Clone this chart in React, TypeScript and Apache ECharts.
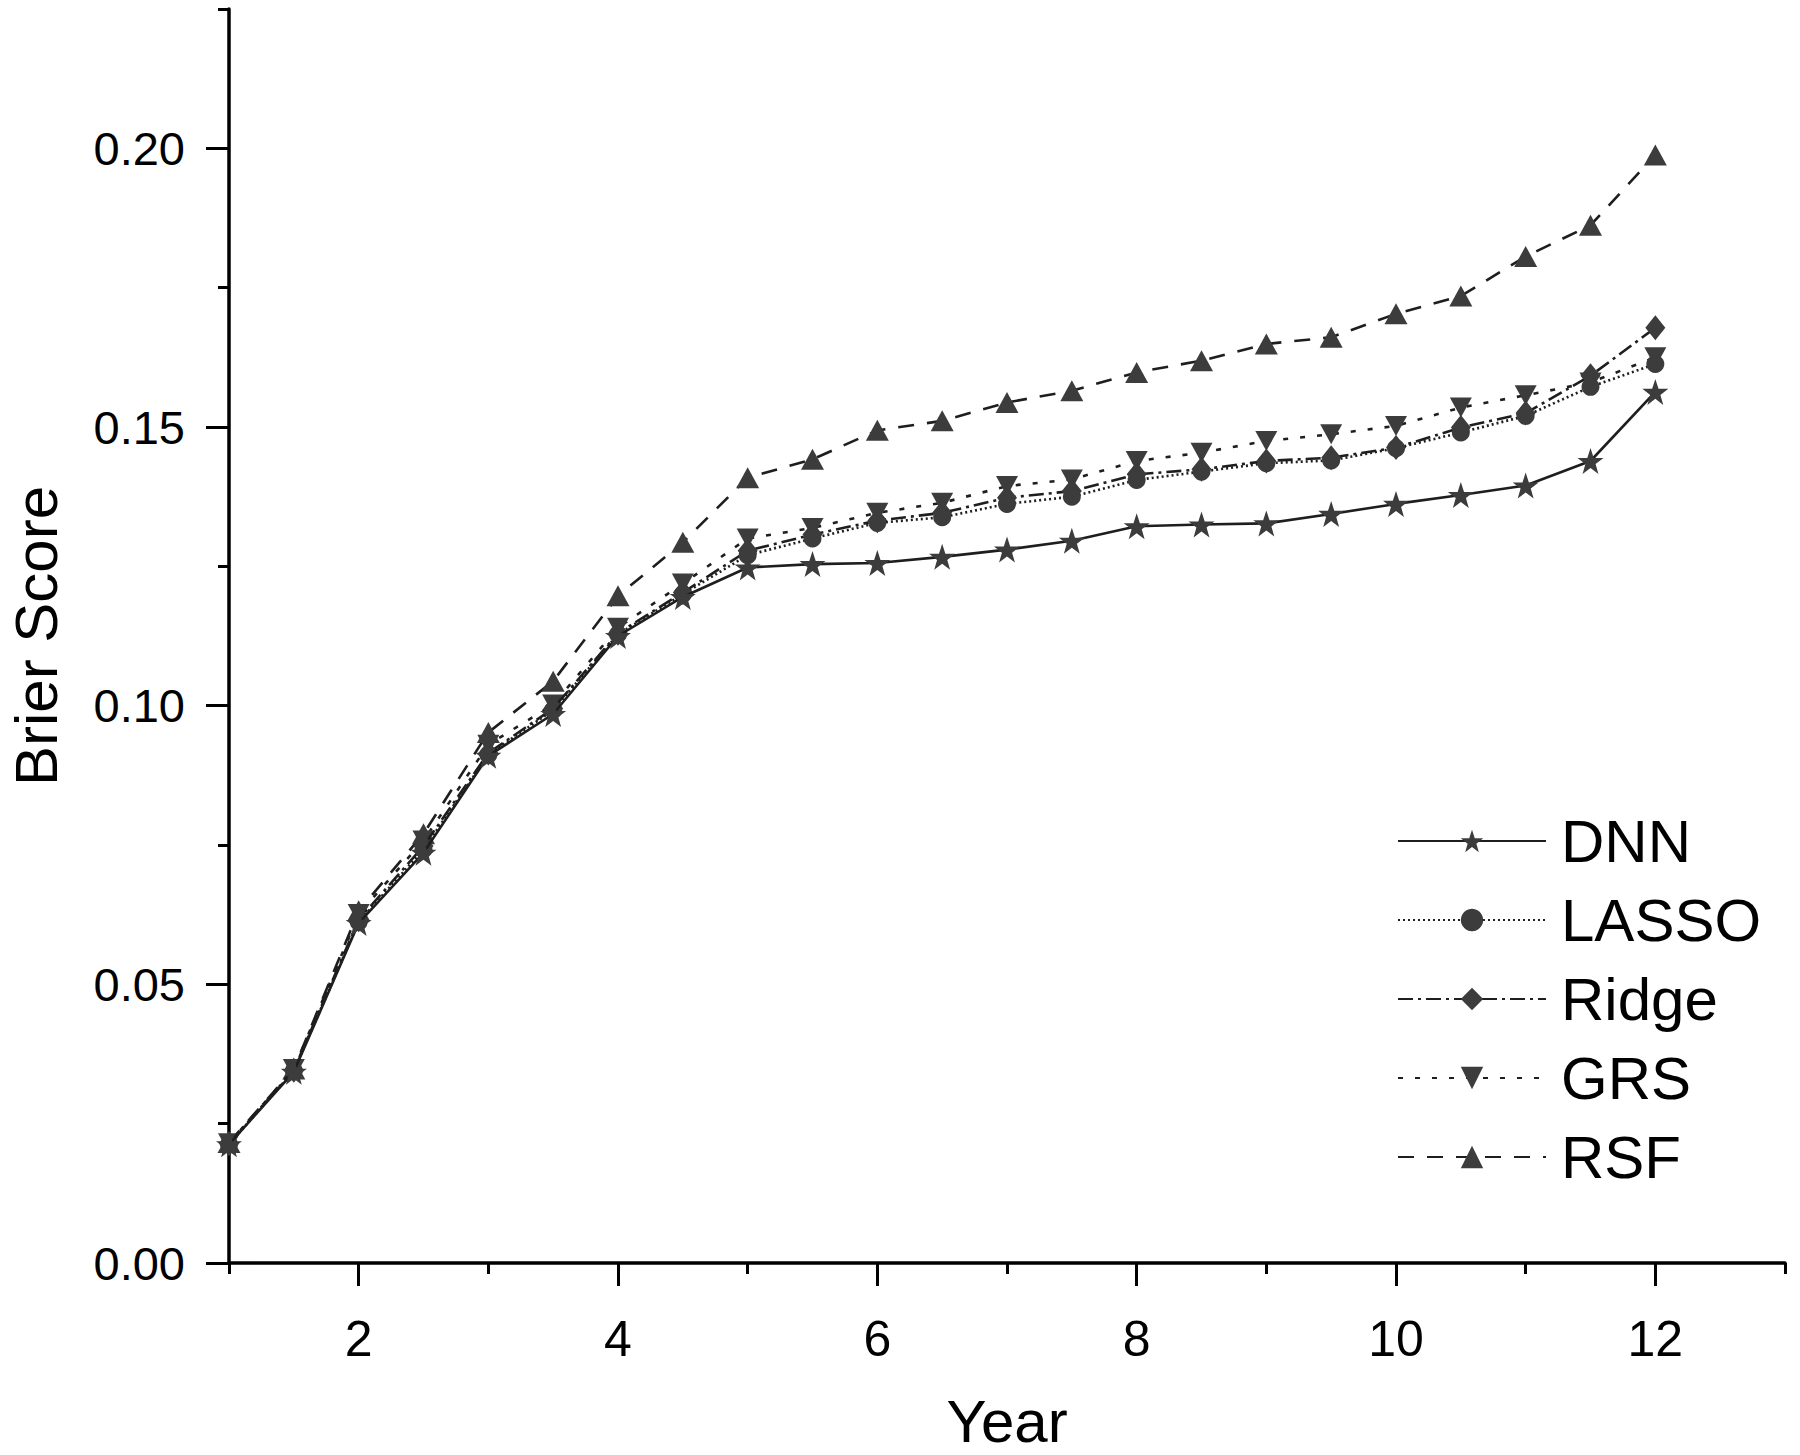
import React, { useEffect, useRef } from "react";
import * as echarts from "echarts";

const years = [1, 1.5, 2, 2.5, 3, 3.5, 4, 4.5, 5, 5.5, 6, 6.5, 7, 7.5, 8, 8.5, 9, 9.5, 10, 10.5, 11, 11.5, 12];

const DNN = [0.0213, 0.0343, 0.061, 0.0736, 0.091, 0.0985, 0.1125, 0.1195, 0.1248, 0.1254, 0.1256, 0.1267, 0.128, 0.1296, 0.1322, 0.1325, 0.1327, 0.1344, 0.1362, 0.1378, 0.1395, 0.1439, 0.1563];
const LASSO = [0.0213, 0.0345, 0.0612, 0.0742, 0.0912, 0.0992, 0.1128, 0.12, 0.127, 0.13, 0.1328, 0.1338, 0.1362, 0.1375, 0.1405, 0.142, 0.1435, 0.144, 0.1462, 0.149, 0.152, 0.1572, 0.1613];
const Ridge = [0.0214, 0.0346, 0.0616, 0.0748, 0.0915, 0.0995, 0.113, 0.1203, 0.1278, 0.1307, 0.1332, 0.1346, 0.1373, 0.1385, 0.1415, 0.1424, 0.1439, 0.1445, 0.1463, 0.1499, 0.1525, 0.1592, 0.1678];
const GRS = [0.0215, 0.0348, 0.0626, 0.0758, 0.093, 0.1002, 0.114, 0.1219, 0.13, 0.1319, 0.1346, 0.1364, 0.1394, 0.1406, 0.1439, 0.1454, 0.1475, 0.1487, 0.1502, 0.1535, 0.1557, 0.158, 0.1625];
const RSF = [0.0216, 0.0348, 0.0632, 0.077, 0.0952, 0.1044, 0.1197, 0.1293, 0.1409, 0.1442, 0.1494, 0.1511, 0.1544, 0.1565, 0.1598, 0.1619, 0.1649, 0.1661, 0.1703, 0.1735, 0.1806, 0.1862, 0.1988];

const seriesNames = ["DNN", "LASSO", "Ridge", "GRS", "RSF"];
const seriesValues = [DNN, LASSO, Ridge, GRS, RSF];

const xMajorTicks = [2, 4, 6, 8, 10, 12];
const xMinorTicks = [1, 3, 5, 7, 9, 11, 13];
const yMajorTicks = [0, 0.05, 0.1, 0.15, 0.2];
const yMinorTicks = [0.025, 0.075, 0.125, 0.175, 0.225];

const STAR = "path://M50,0 L61.8,35.1 L98.1,35.1 L68.8,56.8 L79.4,91.9 L50,70.6 L20.6,91.9 L31.2,56.8 L1.9,35.1 L38.2,35.1 Z";
const DOWN_TRI = "path://M0,0 L100,0 L50,90 Z";

const styles = [
  { symbol: STAR, size: 26, dash: "solid" as any },
  { symbol: "circle", size: 18, dash: [2, 3] },
  { symbol: "diamond", size: [20, 25], dash: [15, 5, 3, 5] },
  { symbol: DOWN_TRI, size: [22, 20], dash: [5, 12] },
  { symbol: "triangle", size: [23, 21], dash: [16, 13] },
];

const FONT = "'Liberation Sans', Arial, sans-serif";

export default function App() {
  const ref = useRef<HTMLDivElement>(null);
  useEffect(() => {
    const chart = echarts.init(ref.current!, null, { renderer: "svg" });
    const grid = { left: 229, right: 15, top: 9, bottom: 192, containLabel: false, outerBoundsMode: "none" };
    const option: any = {
      animation: false,
      backgroundColor: "#fff",
      textStyle: { fontFamily: FONT, color: "#000" },
      grid: [grid, { ...grid }],
      xAxis: [
        {
          type: "value",
          gridIndex: 0,
          min: 1,
          max: 13,
          axisLine: { show: true, lineStyle: { color: "#000", width: 3.5 } },
          axisTick: { show: true, customValues: xMajorTicks, length: 23, lineStyle: { color: "#000", width: 3 } },
          axisLabel: { customValues: xMajorTicks, fontSize: 50, color: "#000", margin: 51, fontFamily: FONT },
          splitLine: { show: false },
          name: "Year",
          nameLocation: "middle",
          nameGap: 134,
          nameTextStyle: { fontSize: 60, lineHeight: 48, color: "#000", fontFamily: FONT },
        },
        {
          type: "value",
          gridIndex: 1,
          min: 1,
          max: 13,
          axisLine: { show: false },
          axisTick: { show: true, customValues: xMinorTicks, length: 11, lineStyle: { color: "#000", width: 3 } },
          axisLabel: { show: false },
          splitLine: { show: false },
        },
      ],
      yAxis: [
        {
          type: "value",
          gridIndex: 0,
          min: 0,
          max: 0.225,
          axisLine: { show: true, lineStyle: { color: "#000", width: 3.5 } },
          axisTick: { show: true, customValues: yMajorTicks, length: 23, lineStyle: { color: "#000", width: 3 } },
          axisLabel: {
            customValues: yMajorTicks,
            fontSize: 47,
            color: "#000",
            margin: 44,
            fontFamily: FONT,
            formatter: (v: number) => v.toFixed(2),
          },
          splitLine: { show: false },
          name: "Brier Score",
          nameLocation: "middle",
          nameGap: 163,
          nameTextStyle: { fontSize: 60, color: "#000", fontFamily: FONT },
        },
        {
          type: "value",
          gridIndex: 1,
          min: 0,
          max: 0.225,
          axisLine: { show: false },
          axisTick: { show: true, customValues: yMinorTicks, length: 11, lineStyle: { color: "#000", width: 3 } },
          axisLabel: { show: false },
          splitLine: { show: false },
        },
      ],
      legend: {
        orient: "vertical",
        left: 1392,
        top: 806,
        itemWidth: 148,
        itemHeight: 28,
        itemGap: 19,
        data: seriesNames,
        textStyle: { fontSize: 60, color: "#000", lineHeight: 60, padding: [0, 0, 0, 10], fontFamily: FONT },
      },
      series: seriesNames.map((name, k) => ({
        name,
        type: "line",
        xAxisIndex: 0,
        yAxisIndex: 0,
        data: years.map((x, i) => [x, seriesValues[k][i]]),
        symbol: styles[k].symbol,
        symbolSize: styles[k].size,
        showAllSymbol: true,
        lineStyle: { color: "#1e1e1e", width: 2.6, type: styles[k].dash },
        itemStyle: { color: "#3c3c3c" },
        z: 2 + (seriesNames.length - k),
      })),
    };
    chart.setOption(option);
    return () => chart.dispose();
  }, []);
  return (
    <div
      ref={ref}
      style={{ position: "fixed", left: 0, top: 0, width: 1800, height: 1455, background: "#fff" }}
    />
  );
}
